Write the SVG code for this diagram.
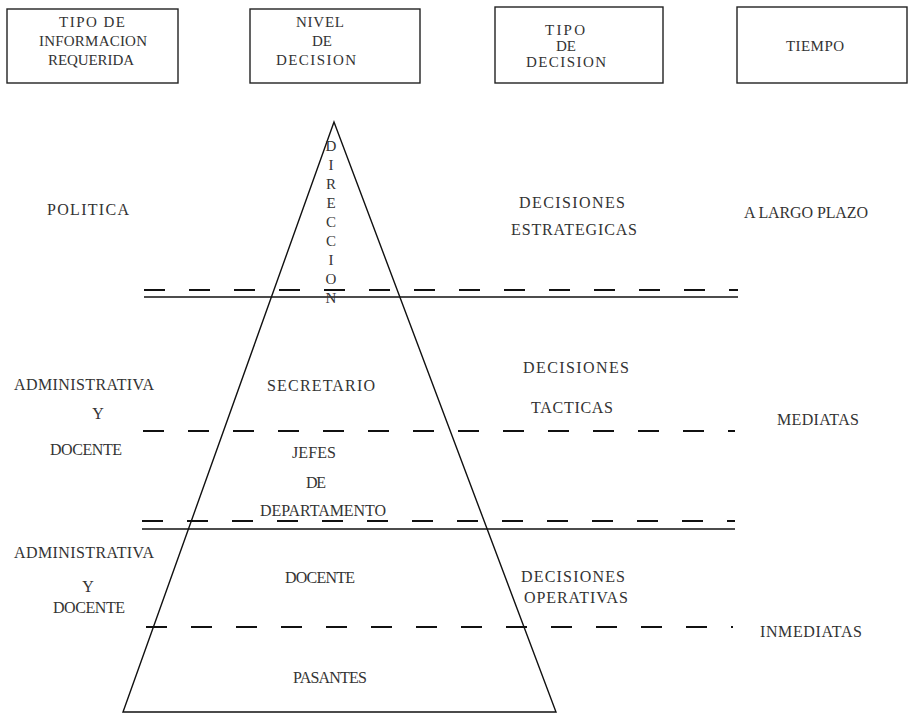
<svg xmlns="http://www.w3.org/2000/svg" width="913" height="727" viewBox="0 0 913 727">
<style>
  .box{fill:none;stroke:#222;stroke-width:1.4}
  text{font-family:"Liberation Serif","DejaVu Serif",serif;fill:#333;lengthAdjust:spacing}
  .hd{font-size:15px;text-anchor:middle}
  .t{font-size:16px}
  .c{text-anchor:middle}
  .v{font-size:15px;text-anchor:middle}
  .solid{stroke:#111;stroke-width:1.3;fill:none}
  .dash{stroke:#111;stroke-width:1.9;fill:none;stroke-dasharray:21 24}
  .pyr{fill:none;stroke:#111;stroke-width:1.4}
</style>
<rect width="913" height="727" fill="#fff"/>
<g id="hdr-info">
  <rect class="box" x="7" y="9" width="171" height="74"/>
  <text class="hd" x="92" y="27" textLength="66" lengthAdjust="spacing">TIPO DE</text>
  <text class="hd" x="93" y="46" textLength="108" lengthAdjust="spacing">INFORMACION</text>
  <text class="hd" x="91" y="65" textLength="86" lengthAdjust="spacing">REQUERIDA</text>
</g>
<g id="hdr-nivel">
  <rect class="box" x="250" y="9" width="170" height="74"/>
  <text class="hd" x="320" y="27" textLength="48" lengthAdjust="spacing">NIVEL</text>
  <text class="hd" x="322" y="46" textLength="20" lengthAdjust="spacing">DE</text>
  <text class="hd" x="316" y="65" textLength="80" lengthAdjust="spacing">DECISION</text>
</g>
<g id="hdr-tipo">
  <rect class="box" x="495" y="7" width="168" height="76"/>
  <text class="hd" x="565" y="35" textLength="40" lengthAdjust="spacing">TIPO</text>
  <text class="hd" x="566" y="51" textLength="20" lengthAdjust="spacing">DE</text>
  <text class="hd" x="566" y="67" textLength="80" lengthAdjust="spacing">DECISION</text>
</g>
<g id="hdr-tiempo">
  <rect class="box" x="737" y="7" width="170" height="76"/>
  <text class="hd" x="815" y="51" textLength="58" lengthAdjust="spacing">TIEMPO</text>
</g>
<g id="connectors">
  <line class="dash" x1="144" y1="290" x2="738" y2="290"/>
  <line class="solid" x1="144" y1="297" x2="738" y2="297"/>
  <line class="dash" x1="143" y1="431" x2="735" y2="431"/>
  <line class="dash" x1="142" y1="521" x2="735" y2="521"/>
  <line class="solid" x1="142" y1="529" x2="735" y2="529"/>
  <line class="dash" x1="146" y1="627" x2="733" y2="627"/>
</g>
<g id="pyramid">
  <polygon class="pyr" points="334,122 123,712 556,712"/>
  <g id="direccion">
    <text class="v" x="331" y="151">D</text>
    <text class="v" x="331" y="170">I</text>
    <text class="v" x="331" y="189">R</text>
    <text class="v" x="331" y="208">E</text>
    <text class="v" x="331" y="227">C</text>
    <text class="v" x="331" y="246">C</text>
    <text class="v" x="331" y="265">I</text>
    <text class="v" x="331" y="284">O</text>
    <text class="v" x="331" y="303">N</text>
  </g>
  <g id="secretario"><text class="t c" x="321" y="391" textLength="108" lengthAdjust="spacing">SECRETARIO</text></g>
  <g id="jefes">
    <text class="t c" x="314" y="458" textLength="44" lengthAdjust="spacing">JEFES</text>
    <text class="t c" x="316" y="488" textLength="20" lengthAdjust="spacing">DE</text>
    <text class="t c" x="323" y="516" textLength="126" lengthAdjust="spacing">DEPARTAMENTO</text>
  </g>
  <g id="docente-n"><text class="t c" x="320" y="583" textLength="70" lengthAdjust="spacing">DOCENTE</text></g>
  <g id="pasantes"><text class="t c" x="330" y="683" textLength="74" lengthAdjust="spacing">PASANTES</text></g>
</g>
<g id="info-labels">
  <g id="politica"><text class="t c" x="88" y="215" textLength="82" lengthAdjust="spacing">POLITICA</text></g>
  <g id="adm1">
    <text class="t c" x="84" y="390" textLength="140" lengthAdjust="spacing">ADMINISTRATIVA</text>
    <text class="t c" x="98" y="419">Y</text>
    <text class="t c" x="86" y="455" textLength="72" lengthAdjust="spacing">DOCENTE</text>
  </g>
  <g id="adm2">
    <text class="t c" x="84" y="558" textLength="140" lengthAdjust="spacing">ADMINISTRATIVA</text>
    <text class="t c" x="88" y="592">Y</text>
    <text class="t c" x="89" y="613" textLength="72" lengthAdjust="spacing">DOCENTE</text>
  </g>
</g>
<g id="decision-labels">
  <g id="estrategicas">
    <text class="t c" x="572" y="208" textLength="106" lengthAdjust="spacing">DECISIONES</text>
    <text class="t c" x="574" y="235" textLength="126" lengthAdjust="spacing">ESTRATEGICAS</text>
  </g>
  <g id="tacticas">
    <text class="t c" x="576" y="373" textLength="106" lengthAdjust="spacing">DECISIONES</text>
    <text class="t c" x="572" y="413" textLength="82" lengthAdjust="spacing">TACTICAS</text>
  </g>
  <g id="operativas">
    <text class="t c" x="573" y="582" textLength="104" lengthAdjust="spacing">DECISIONES</text>
    <text class="t c" x="576" y="603" textLength="104" lengthAdjust="spacing">OPERATIVAS</text>
  </g>
</g>
<g id="tiempo-labels">
  <g id="largo"><text class="t c" x="806" y="218" textLength="124" lengthAdjust="spacing">A LARGO PLAZO</text></g>
  <g id="mediatas"><text class="t c" x="818" y="425" textLength="82" lengthAdjust="spacing">MEDIATAS</text></g>
  <g id="inmediatas"><text class="t c" x="811" y="637" textLength="102" lengthAdjust="spacing">INMEDIATAS</text></g>
</g>
</svg>
